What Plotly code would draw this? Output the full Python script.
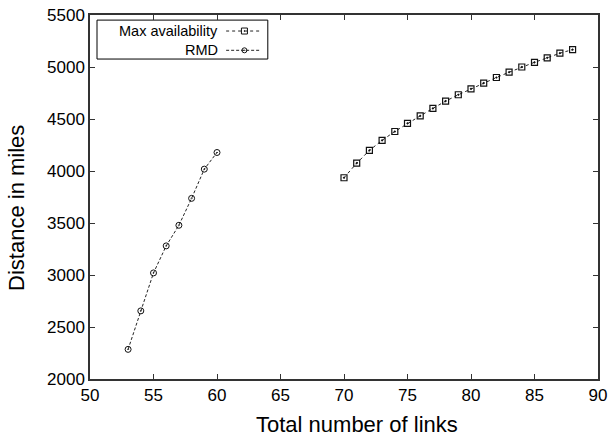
import plotly.graph_objects as go

links_max = list(range(70, 89))
dist_max = [3935, 4075, 4198, 4295, 4380, 4458, 4530, 4602, 4672, 4733,
            4790, 4845, 4899, 4950, 5000, 5045, 5088, 5133, 5167]
links_rmd = list(range(53, 61))
dist_rmd = [2285, 2655, 3020, 3280, 3478, 3737, 4018, 4178]

series_names = ["Max availability", "RMD"]

FONT = "Liberation Sans, Arial, Helvetica, sans-serif"
LINE_COL = "#222222"

fig = go.Figure()
fig.add_trace(go.Scatter(
    x=links_max, y=dist_max, mode="lines+markers", name=series_names[0],
    line=dict(color=LINE_COL, width=1, dash="dot"),
    marker=dict(symbol="square-open-dot", size=6, color="#111111", line=dict(width=1.2)),
    showlegend=False,
))
fig.add_trace(go.Scatter(
    x=links_rmd, y=dist_rmd, mode="lines+markers", name=series_names[1],
    line=dict(color=LINE_COL, width=1, dash="3px,2px"),
    marker=dict(symbol="circle-open-dot", size=6, color="#111111", line=dict(width=1)),
    showlegend=False,
))

# Manual legend (text right-aligned, key on the right) on an overlay axis in [0,1]
leg_x0, leg_x1, leg_y0, leg_y1 = 0.0138, 0.350, 0.879, 0.986
key_x = [0.268, 0.304, 0.333]
rows_y = [0.956, 0.903]
styles = [("dot", "square-open-dot", 6), ("3px,2px", "circle-open-dot", 5)]
for name, ry, (dash, sym, sz) in zip(series_names, rows_y, styles):
    fig.add_trace(go.Scatter(
        x=key_x, y=[ry] * 3, xaxis="x2", yaxis="y2", mode="lines",
        line=dict(color=LINE_COL, width=1, dash=dash), showlegend=False, hoverinfo="skip"))
    fig.add_trace(go.Scatter(
        x=[key_x[1]], y=[ry], xaxis="x2", yaxis="y2", mode="markers",
        marker=dict(symbol=sym, size=sz, color="#111111", line=dict(width=1)),
        showlegend=False, hoverinfo="skip"))
    fig.add_annotation(x=0.251, y=ry, xref="x2", yref="y2", text=name, showarrow=False,
                       xanchor="right", yanchor="middle", xshift=2,
                       font=dict(size=14.5, color="black", family=FONT))

fig.add_shape(type="rect", xref="paper", yref="paper", x0=leg_x0, x1=leg_x1, y0=leg_y0, y1=leg_y1,
              line=dict(color="black", width=1), fillcolor="white", layer="below")

# Axis titles
fig.add_annotation(x=0.526, y=-0.125, xref="paper", yref="paper", text="Total number of links",
                   showarrow=False, xanchor="center", yanchor="middle",
                   font=dict(size=22, color="black", family=FONT))
fig.add_annotation(x=-0.1437, y=0.47, xref="paper", yref="paper", text="Distance in miles",
                   showarrow=False, xanchor="center", yanchor="middle", textangle=-90,
                   font=dict(size=22, color="black", family=FONT))

axis_common = dict(
    showgrid=False, zeroline=False, showline=True, linecolor="#333333", linewidth=1.5,
    mirror="ticks", ticks="inside", ticklen=5, tickcolor="#333333", tickwidth=1,
    tickfont=dict(size=17, color="black", family=FONT), automargin=False,
)

fig.update_layout(
    width=609, height=436,
    margin=dict(l=90, r=11, t=15, b=57),
    paper_bgcolor="white", plot_bgcolor="white",
    font=dict(family=FONT, color="black"),
    xaxis=dict(range=[50, 90], dtick=5, **axis_common),
    yaxis=dict(range=[2000, 5500], dtick=500, **axis_common),
    xaxis2=dict(range=[0, 1], overlaying="x", visible=False, fixedrange=True),
    yaxis2=dict(range=[0, 1], overlaying="y", visible=False, fixedrange=True),
)

fig.write_html("out.html", config={"displayModeBar": False},
               post_script="document.body.style.margin='0';document.body.style.overflow='hidden';")
